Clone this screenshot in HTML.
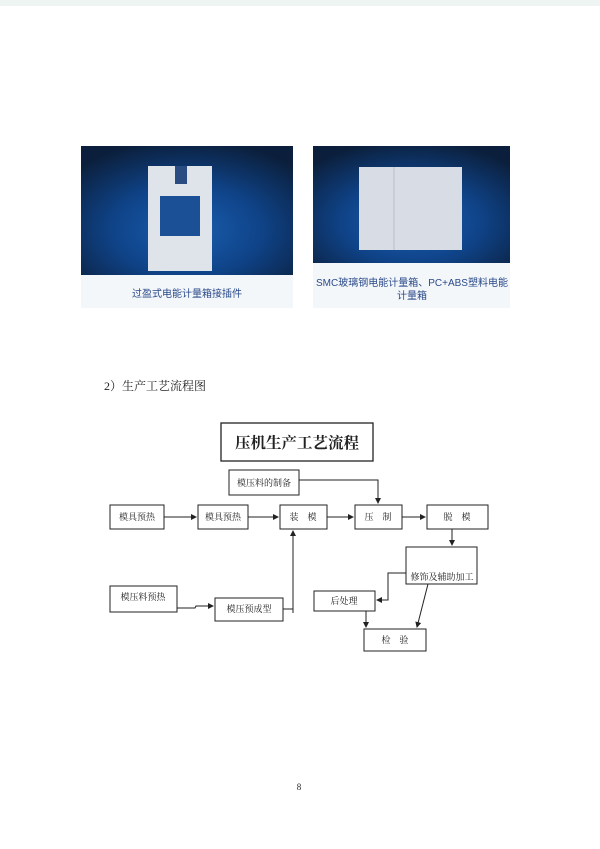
<!DOCTYPE html>
<html><head><meta charset="utf-8"><style>
html,body{margin:0;padding:0;background:#fff;}
body{width:600px;height:849px;position:relative;overflow:hidden;font-family:"Liberation Serif","Noto Serif CJK SC",serif;}
</style></head><body>
<svg width="600" height="849" viewBox="0 0 600 849" xmlns="http://www.w3.org/2000/svg" style="position:absolute;left:0;top:0">
<defs>
<radialGradient id="bg1" cx="0.5" cy="0.65" r="0.7">
<stop offset="0" stop-color="#1a5fb0"/><stop offset="0.5" stop-color="#0f4388"/><stop offset="1" stop-color="#0b1f3c"/>
</radialGradient>
<marker id="a" markerWidth="6" markerHeight="6" refX="5" refY="3" orient="auto"><path d="M0,0 L6,3 L0,6 z" fill="#222"/></marker>
</defs>
<rect x="0" y="0" width="600" height="6" fill="#eef4f2"/>
<!-- photos -->
<rect x="81" y="146" width="212" height="129" fill="url(#bg1)"/>
<rect x="81" y="275" width="212" height="33" fill="#f4f7fa"/>
<rect x="148" y="166" width="64" height="105" fill="#dfe3ea"/>
<rect x="160" y="196" width="40" height="40" fill="#1b4f96"/>
<rect x="175" y="166" width="12" height="18" fill="#2a4c80"/>
<rect x="313" y="146" width="197" height="117" fill="url(#bg1)"/>
<rect x="313" y="263" width="197" height="45" fill="#f4f7fa"/>
<rect x="359" y="167" width="103" height="83" fill="#d8dce4"/>
<line x1="394" y1="167" x2="394" y2="250" stroke="#b8bec8"/>
<g font-family="Liberation Sans,Noto Sans CJK SC,sans-serif" font-size="10" fill="#2a4a8a" text-anchor="middle">
<text x="187" y="297">过盈式电能计量箱接插件</text>
<text x="412" y="286">SMC玻璃钢电能计量箱、PC+ABS塑料电能</text>
<text x="412" y="299">计量箱</text>
</g>
<text x="104" y="390" font-size="12" fill="#222">2）生产工艺流程图</text>
<g fill="none" stroke="#222" stroke-width="1">
<rect x="221" y="423" width="152" height="38" stroke-width="1.3"/>
<rect x="229" y="470" width="70" height="25"/>
<rect x="110" y="505" width="54" height="24"/>
<rect x="198" y="505" width="50" height="24"/>
<rect x="280" y="505" width="47" height="24"/>
<rect x="355" y="505" width="47" height="24"/>
<rect x="427" y="505" width="61" height="24"/>
<rect x="406" y="547" width="71" height="37"/>
<rect x="314" y="591" width="61" height="20"/>
<rect x="364" y="629" width="62" height="22"/>
<rect x="110" y="586" width="67" height="26"/>
<rect x="215" y="598" width="68" height="23"/>
<line x1="164" y1="517" x2="196" y2="517" marker-end="url(#a)"/>
<line x1="248" y1="517" x2="278" y2="517" marker-end="url(#a)"/>
<line x1="327" y1="517" x2="353" y2="517" marker-end="url(#a)"/>
<line x1="402" y1="517" x2="425" y2="517" marker-end="url(#a)"/>
<polyline points="299,480 378,480 378,503" marker-end="url(#a)"/>
<line x1="452" y1="529" x2="452" y2="545" marker-end="url(#a)"/>
<polyline points="177,608 195,608 196,606 213,606" marker-end="url(#a)"/>
<polyline points="283,609 293,609"/>
<line x1="293" y1="613" x2="293" y2="531" marker-end="url(#a)"/>
<polyline points="406,573 388,573 388,600 377,600" marker-end="url(#a)"/>
<line x1="366" y1="611" x2="366" y2="627" marker-end="url(#a)"/>
<line x1="428" y1="584" x2="417" y2="627" marker-end="url(#a)"/>
</g>
<g font-size="9" fill="#222" text-anchor="middle">
<text x="297" y="448" font-size="15.5" font-weight="bold">压机生产工艺流程</text>
<text x="264" y="486">模压料的制备</text>
<text x="137" y="520">模具预热</text>
<text x="223" y="520">模具预热</text>
<text x="303" y="520">装　模</text>
<text x="378" y="520">压　制</text>
<text x="457" y="520">脱　模</text>
<text x="442" y="580">修饰及辅助加工</text>
<text x="344" y="604">后处理</text>
<text x="395" y="643">检　验</text>
<text x="143" y="600">模压料预热</text>
<text x="249" y="612">模压预成型</text>
<text x="299" y="790">8</text>
</g>
</svg>
</body></html>
